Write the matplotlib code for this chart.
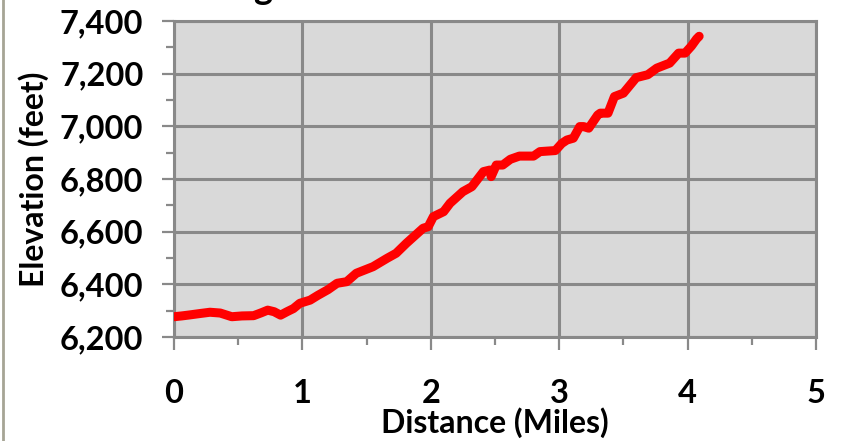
import matplotlib.pyplot as plt
from matplotlib.ticker import MultipleLocator, FuncFormatter
from matplotlib.lines import Line2D

plt.rcParams['font.family'] = ['Lato', 'DejaVu Sans']
plt.rcParams['font.weight'] = 'bold'

# trail profile
distance = [0.00, 0.06, 0.125, 0.20, 0.28, 0.36, 0.45, 0.53, 0.62, 0.68, 0.73, 0.78,
            0.83, 0.88, 0.93, 0.98, 1.06, 1.12, 1.20, 1.27, 1.345, 1.42, 1.55, 1.66,
            1.73, 1.81, 1.94, 1.98, 2.02, 2.10, 2.15, 2.25, 2.32, 2.41, 2.46, 2.47,
            2.51, 2.56, 2.62, 2.69, 2.80, 2.85, 2.97, 3.02, 3.06, 3.11, 3.16, 3.19,
            3.23, 3.30, 3.32, 3.38, 3.43, 3.50, 3.60, 3.69, 3.76, 3.86, 3.93, 3.98,
            4.03, 4.07, 4.09]
elevation = [6277, 6280, 6284, 6289, 6294, 6291, 6277, 6280, 6281, 6292, 6302, 6296,
             6283, 6296, 6308, 6328, 6340, 6358, 6380, 6404, 6410, 6442, 6467, 6499,
             6518, 6556, 6613, 6619, 6657, 6676, 6708, 6752, 6771, 6828, 6834, 6809,
             6853, 6853, 6875, 6887, 6887, 6904, 6908, 6935, 6948, 6955, 6999, 6999,
             6993, 7043, 7050, 7050, 7113, 7126, 7185, 7196, 7221, 7240, 7278, 7278,
             7305, 7332, 7342]

grey = '#898989'

fig = plt.figure(figsize=(8.44, 4.41), dpi=100)
ax = fig.add_axes([174 / 844, 1 - 337 / 441, 642 / 844, 316 / 441])
ax.set_facecolor('#d9d9d9')

ax.plot(distance, elevation, color='#ff0000', lw=6.5, solid_capstyle='round',
        solid_joinstyle='round', zorder=3)

ax.set_xlim(0, 5)
ax.set_ylim(6200, 7400)
ax.xaxis.set_major_locator(MultipleLocator(1))
ax.xaxis.set_minor_locator(MultipleLocator(0.5))
ax.yaxis.set_major_locator(MultipleLocator(200))
ax.yaxis.set_minor_locator(MultipleLocator(100))
ax.yaxis.set_major_formatter(FuncFormatter(lambda v, p: f'{int(v):,}'))

ax.grid(True, which='major', color=grey, lw=2.2, zorder=1)
ax.set_axisbelow(True)
for s in ax.spines.values():
    s.set_color(grey)
    s.set_linewidth(2.2)

ax.tick_params(which='major', length=9, width=1.6, color=grey, labelsize=23.5)
ax.tick_params(which='minor', length=6, width=1.6, color=grey)
ax.tick_params(axis='x', which='major', pad=21)
ax.tick_params(axis='y', which='major', pad=13)

ax.set_xlabel('Distance (Miles)', fontsize=23, fontweight='bold', labelpad=0)
ax.set_ylabel('Elevation (feet)', fontsize=23, fontweight='bold', labelpad=8)

# left frame edge and the clipped title above
fig.add_artist(Line2D([3 / 844, 3 / 844], [0, 1], color='#a6a595', lw=2))
fig.text(263 / 844, 1.0 + 1 / 441, 'g', fontsize=26, fontweight='bold',
         ha='center', va='baseline')

fig.savefig('out.png', dpi=100)
